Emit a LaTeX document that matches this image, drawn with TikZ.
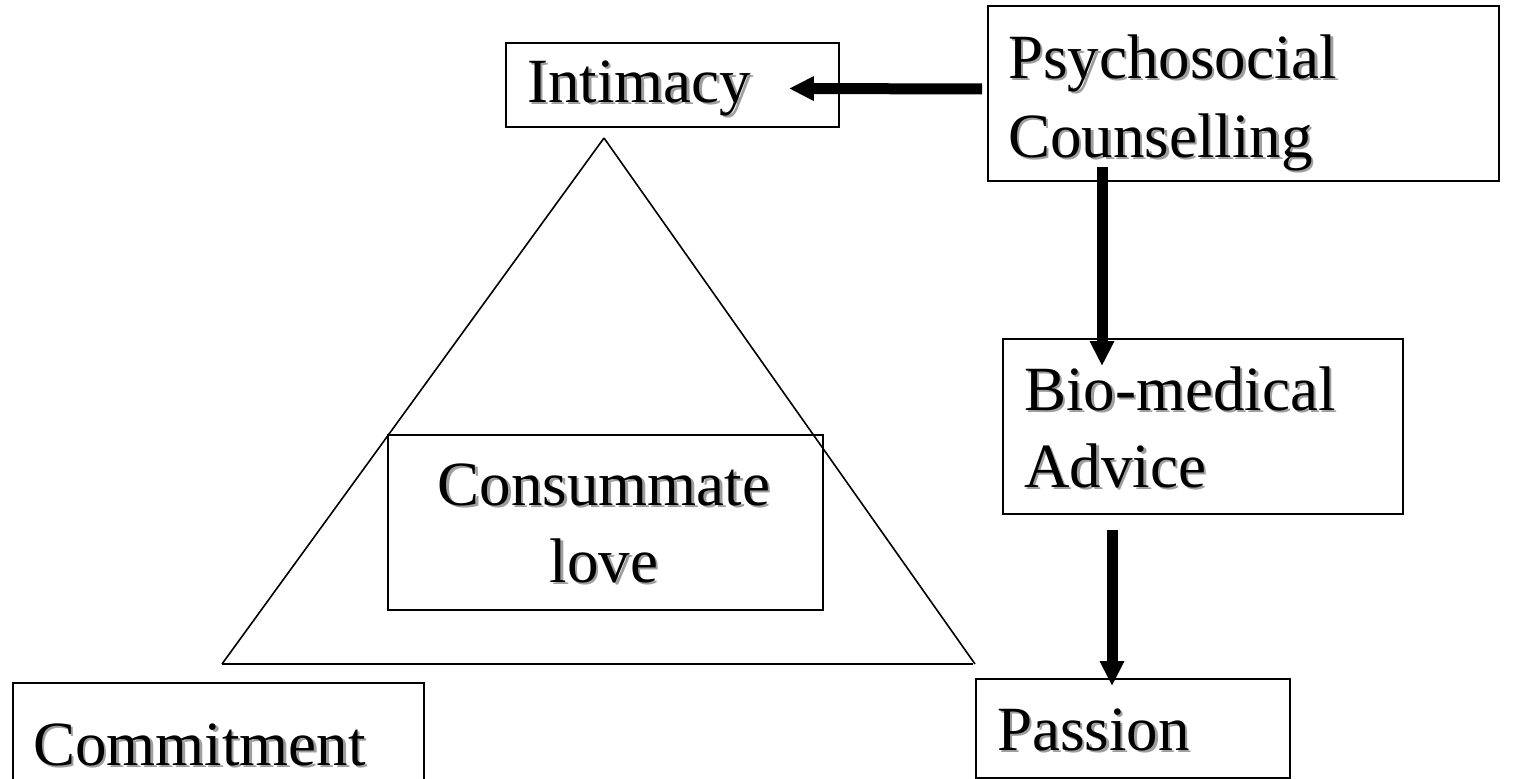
\documentclass[tikz,border=0pt]{standalone}
\usepackage{fontspec}
\setmainfont{Liberation Serif}
\usetikzlibrary{arrows.meta}
\definecolor{shade}{gray}{0.62}
% text with a soft grey drop shadow behind it
\newcommand\sh[1]{\makebox[0pt][l]{\textcolor{shade}{\kern0.05cm\raisebox{-0.05cm}{#1}}}#1}
\tikzset{
  box/.style={draw, line width=0.04cm, inner sep=0pt, anchor=north west},
  lbl/.style={inner sep=0pt, font=\fontsize{35.85}{43}\selectfont},
  bigarrow/.style={line width=0.22cm, -{Triangle[length=0.5cm,width=0.46cm]}},
  triline/.style={line width=0.032cm}
}
\begin{document}
\begin{tikzpicture}[x=0.02cm, y=-0.02cm]
\useasboundingbox (0,0) rectangle (1518,778);

% love triangle
\draw[triline] (604,138) -- (975,664);
\draw[triline] (604,138) -- (222,664);
\draw[triline] (222,664) -- (973,664);

% boxes
\node[box, minimum width=6.66cm, minimum height=1.68cm] (int) at (505,42) {};
\node[box, minimum width=10.22cm, minimum height=3.50cm] (psy) at (987,5) {};
\node[box, minimum width=8.00cm, minimum height=3.50cm] (bio) at (1002,338) {};
\node[box, minimum width=8.70cm, minimum height=3.50cm] (con) at (387,434) {};
\node[box, minimum width=8.22cm, minimum height=3.00cm] (com) at (12,682) {};
\node[box, minimum width=6.28cm, minimum height=1.98cm] (pas) at (975,678) {};

% labels
\node[lbl, anchor=base west] (t-int) at (527,102) {\sh{Intimacy}};
\node[lbl, anchor=base west] (t-psy1) at (1008,78) {\sh{Psychosocial}};
\node[lbl, anchor=base west] (t-psy2) at (1008,157) {\sh{Counselling}};
\node[lbl, anchor=base west] (t-bio1) at (1024,410) {\sh{Bio-medical}};
\node[lbl, anchor=base west] (t-bio2) at (1024,487) {\sh{Advice}};
\node[lbl, anchor=base] (t-con1) at (604,505) {\sh{Consummate}};
\node[lbl, anchor=base] (t-con2) at (604,582) {\sh{love}};
\node[lbl, anchor=base west] (t-com) at (33,765) {\sh{Commitment}};
\node[lbl, anchor=base west] (t-pas) at (997,750) {\sh{Passion}};

% arrows
\draw[bigarrow] ([shift={(-5,-4.5)}]psy.west) -- ([shift={(-51,3.5)}]int.east);
\draw[bigarrow] ([shift={(115,-15)}]psy.south west) -- ([shift={(100,28)}]bio.north west);
\draw[bigarrow] ([shift={(137,-148)}]pas.north west) -- ([shift={(137,8)}]pas.north west);
\end{tikzpicture}
\end{document}
